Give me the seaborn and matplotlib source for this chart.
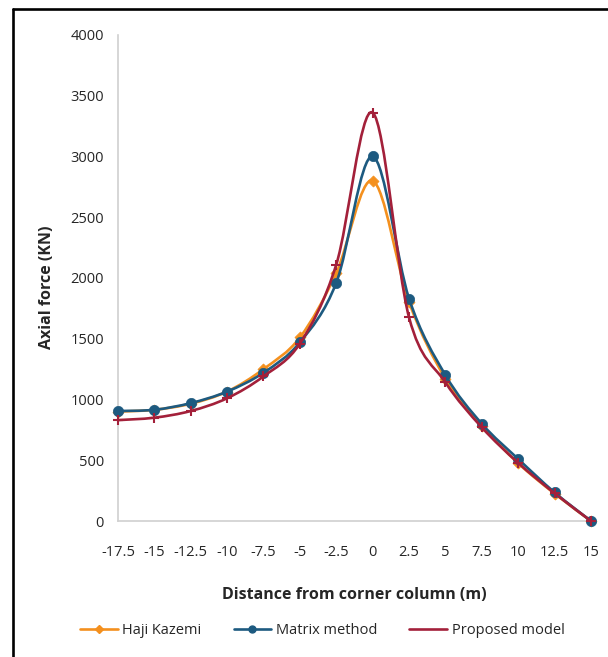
import numpy as np
import pandas as pd
import matplotlib
matplotlib.use("Agg")
import matplotlib.pyplot as plt
from matplotlib.path import Path
from matplotlib.patches import PathPatch
from matplotlib.lines import Line2D
import seaborn as sns

# Distance from the corner column (m)
distance = [-17.5, -15, -12.5, -10, -7.5, -5, -2.5, 0, 2.5, 5, 7.5, 10, 12.5, 15]

# Axial force (kN) for each method
haji_kazemi = [900, 915, 965, 1065, 1250, 1510, 2040, 2800, 1800, 1170, 785, 475, 225, 0]
matrix_method = [905, 915, 970, 1065, 1220, 1470, 1960, 3000, 1830, 1200, 800, 510, 235, 0]
proposed_model = [830, 850, 905, 1010, 1190, 1460, 2110, 3360, 1675, 1140, 770, 478, 228, 0]

series_names = ["Haji Kazemi", "Matrix method", "Proposed model"]
series_values = [haji_kazemi, matrix_method, proposed_model]
series_colors = ["#F4901E", "#1D5A80", "#A3203A"]
series_markers = ["D", "o", "+"]
marker_sizes = [32, 55, 55]

x_ticks = [-17.5, -15, -12.5, -10, -7.5, -5, -2.5, 0, 2.5, 5, 7.5, 10, 12.5, 15]
y_ticks = [0, 500, 1000, 1500, 2000, 2500, 3000, 3500, 4000]

sns.set_theme(style="white")
plt.rcParams["font.family"] = ["Open Sans", "DejaVu Sans"]

text_color = "#262626"


def smooth_path(xs, ys):
    """Cubic Bezier path through the points (Catmull-Rom style smoothing)."""
    pts = np.column_stack([xs, ys]).astype(float)
    n = len(pts)
    verts = [pts[0]]
    codes = [Path.MOVETO]
    for i in range(n - 1):
        p0 = pts[i - 1] if i > 0 else pts[i]
        p1 = pts[i]
        p2 = pts[i + 1]
        p3 = pts[i + 2] if i + 2 < n else pts[i + 1]
        c1 = p1 + (p2 - p0) / 6.0
        c2 = p2 - (p3 - p1) / 6.0
        verts.extend([c1, c2, p2])
        codes.extend([Path.CURVE4] * 3)
    return Path(verts, codes)


fig = plt.figure(figsize=(6.08, 6.57), dpi=100)
ax = fig.add_axes([0.194, 0.207, 0.778, 0.740])

for i, (name, vals, color, mk, ms) in enumerate(
        zip(series_names, series_values, series_colors, series_markers, marker_sizes)):
    patch = PathPatch(smooth_path(distance, vals), facecolor="none",
                      edgecolor=color, lw=1.9, zorder=2 + 2 * i,
                      capstyle="round", joinstyle="round")
    ax.add_patch(patch)
    df = pd.DataFrame({"x": distance, "y": vals})
    if mk == "+":
        sns.scatterplot(data=df, x="x", y="y", marker=mk, s=ms, color=color,
                        linewidth=1.5, ax=ax, zorder=3 + 2 * i, clip_on=False)
    else:
        sns.scatterplot(data=df, x="x", y="y", marker=mk, s=ms, color=color,
                        edgecolor=color, linewidth=0.5, ax=ax, zorder=3 + 2 * i,
                        clip_on=False)

ax.set_xlim(-17.5, 15)
ax.set_ylim(0, 4000)
ax.set_xticks(x_ticks)
ax.set_xticklabels([f"{t:g}" for t in x_ticks])
ax.set_yticks(y_ticks)
ax.set_yticklabels([str(t) for t in y_ticks])
ax.tick_params(axis="x", length=0, pad=17, labelsize=10.5, colors=text_color)
ax.tick_params(axis="y", length=0, pad=10, labelsize=10.5, colors=text_color)

for side in ["top", "right"]:
    ax.spines[side].set_visible(False)
for side in ["left", "bottom"]:
    ax.spines[side].set_color("#D0D0D0")
    ax.spines[side].set_linewidth(1.2)

ax.set_xlabel("Distance from corner column (m)", fontsize=11.5,
              fontweight="bold", color=text_color)
ax.set_ylabel("Axial force (KN)", fontsize=11.5, fontweight="bold",
              color=text_color)
ax.xaxis.set_label_coords(0.5, -0.135)
ax.yaxis.set_label_coords(-0.134, 0.48)

handles = [
    Line2D([], [], color=series_colors[0], lw=1.9, marker="D", markersize=4),
    Line2D([], [], color=series_colors[1], lw=1.9, marker="o", markersize=5),
    Line2D([], [], color=series_colors[2], lw=1.9),
]
fig.legend(handles, series_names, loc="center", bbox_to_anchor=(0.53, 0.04),
           ncol=3, frameon=False, fontsize=10.5, handlelength=2.6,
           handletextpad=0.3, columnspacing=2.2, labelcolor=text_color)

# Outer frame (left and top edges)
fig.add_artist(Line2D([12.5 / 608, 12.5 / 608], [0, 1 - 8.5 / 657],
                      transform=fig.transFigure, color="black", lw=1.9))
fig.add_artist(Line2D([12.5 / 608, 1], [1 - 8.5 / 657, 1 - 8.5 / 657],
                      transform=fig.transFigure, color="black", lw=1.9))

fig.savefig("out.png", dpi=100)
